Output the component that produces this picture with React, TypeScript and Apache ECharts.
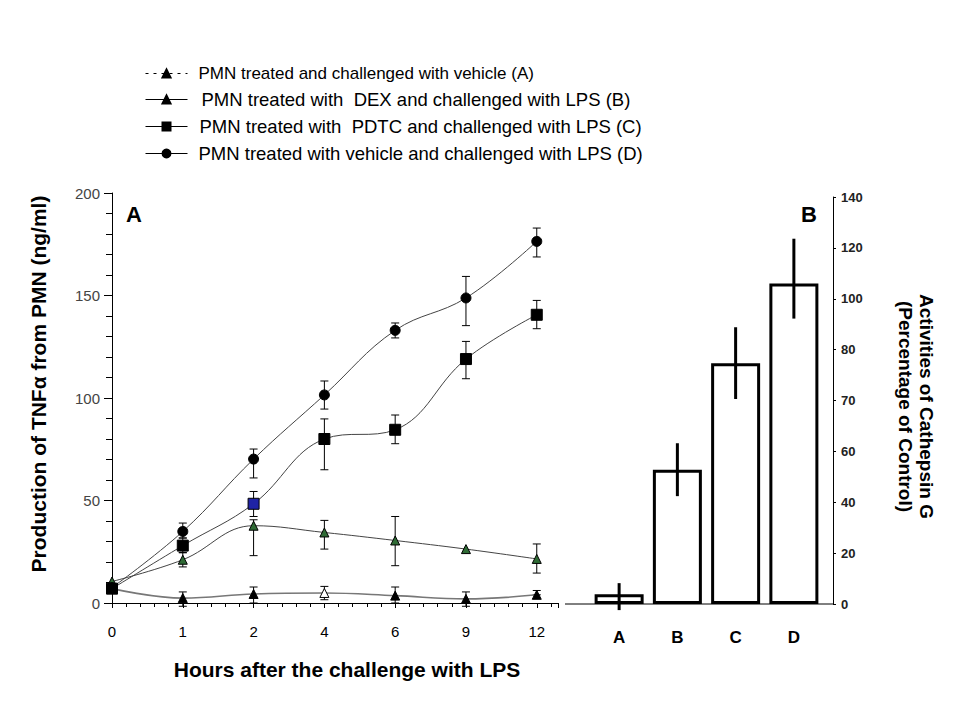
import React, { useEffect, useRef } from "react";
import * as echarts from "echarts";

// ---------- Panel A data (TNFα, ng/ml) ----------
const hours = ["0", "1", "2", "4", "6", "9", "12"];
const seriesNames = [
  "PMN treated and challenged with vehicle (A)",
  "PMN treated with  DEX and challenged with LPS (B)",
  "PMN treated with  PDTC and challenged with LPS (C)",
  "PMN treated with vehicle and challenged with LPS (D)",
];
const valA = [7, 2.4, 4.4, 4.9, 3.6, 2, 4];
const loA = [null, -1.6, 0, 1.6, 0, -1.6, 4];
const hiA = [null, 5.4, 7.8, 8.1, 7.8, 5.4, 6.1];
const valB = [10.5, 21.1, 37.7, 34.4, 30.5, 26.3, 21.5];
const loB = [null, 17.6, 23.1, 26.3, 18.2, null, 14.6];
const hiB = [null, 24.6, 40.6, 40.3, 42.2, null, 28.8];
const valC = [7, 28, 48.4, 80, 84.5, 119, 140.6];
const loC = [null, 24.5, 42.2, 65, 77.7, 109.4, 133.8];
const hiC = [null, 31.7, 54.4, 89.8, 91.7, 127.6, 147.6];
const valD = [7.5, 34.9, 70.2, 101.5, 133, 148.8, 176.4];
const loD = [null, 31.7, 61, 94.6, 129.3, 135.3, 168.8];
const hiD = [null, 39, 75.1, 108.3, 136.6, 159.3, 182.9];

// ---------- Panel B data (Cathepsin G, % of control) ----------
const barCats = ["A", "B", "C", "D"];
const barVals = [3.8, 52.8, 77.3, 106];
const barLo = [-2.4, 42.4, 70.3, 92.2];
const barHi = [8.2, 61.6, 88.8, 123.6];
const rightTicks = [0, 20, 40, 60, 70, 80, 100, 120, 140];

// map value on the (non-uniform) right axis to evenly spaced tick positions
function toPos(v: number): number {
  const t = rightTicks;
  if (v <= t[0]) return (v - t[0]) / (t[1] - t[0]);
  for (let k = 0; k < t.length - 1; k++) {
    if (v <= t[k + 1]) return k + (v - t[k]) / (t[k + 1] - t[k]);
  }
  const n = t.length - 1;
  return n + (v - t[n]) / (t[n] - t[n - 1]);
}

const FONT = "'Liberation Sans', Arial, sans-serif";
const GREEN = "#2f6b35";
const BLUE = "#1f23a6";

function errRender(capHalf: number, lw: number) {
  return (params: any, api: any) => {
    const x = api.value(0);
    const p1 = api.coord([x, api.value(1)]);
    const p2 = api.coord([x, api.value(2)]);
    const children: any[] = [
      { type: "line", shape: { x1: p1[0], y1: p1[1], x2: p2[0], y2: p2[1] }, style: { stroke: "#000", lineWidth: lw } },
    ];
    if (capHalf > 0) {
      children.push({ type: "line", shape: { x1: p1[0] - capHalf, y1: p1[1], x2: p1[0] + capHalf, y2: p1[1] }, style: { stroke: "#000", lineWidth: lw } });
      children.push({ type: "line", shape: { x1: p2[0] - capHalf, y1: p2[1], x2: p2[0] + capHalf, y2: p2[1] }, style: { stroke: "#000", lineWidth: lw } });
    }
    return { type: "group", children };
  };
}

function errData(lo: (number | null)[], hi: (number | null)[]) {
  const out: any[] = [];
  lo.forEach((l, i) => {
    const h = hi[i];
    if (l !== null && h !== null) out.push([i, l, h]);
  });
  return out;
}

export default function App() {
  const ref = useRef<HTMLDivElement>(null);
  useEffect(() => {
    document.body.style.margin = "0";
    if (!ref.current) return;
    const chart = echarts.init(ref.current, null, { renderer: "svg" });

    const lineBase = (name: string, vals: number[], symbol: string, size: number, itemColors: (string | null)[], lineColor: string, lineWidth: number) => ({
      name,
      type: "line",
      xAxisIndex: 0,
      yAxisIndex: 0,
      smooth: 0.4,
      symbol,
      symbolSize: size,
      showSymbol: true,
      z: 3,
      lineStyle: { color: lineColor, width: lineWidth },
      itemStyle: { color: "#000", borderColor: "#000", borderWidth: 1 },
      data: vals.map((v, i) => ({
        value: [i, v],
        itemStyle: itemColors[i] ? { color: itemColors[i] as string, borderColor: "#000", borderWidth: 1 } : undefined,
      })),
    });

    const legendCommon = (top: number, size: number, pad: number) => ({
      left: 140,
      top,
      orient: "horizontal",
      itemWidth: 42,
      itemHeight: 10,
      textStyle: { fontFamily: FONT, fontSize: size, color: "#000", padding: [0, 0, 0, pad] },
      lineStyle: { color: "#000", width: 1 },
      selectedMode: false,
    });

    const option: any = {
      animation: false,
      backgroundColor: "#fff",
      legend: [
        { ...legendCommon(60, 17, 6), data: [{ name: seriesNames[0], lineStyle: { type: [3, 5], color: "#000" } }] },
        { ...legendCommon(85, 18.5, 9), data: [seriesNames[1]] },
        { ...legendCommon(112, 18.5, 7), data: [seriesNames[2]] },
        { ...legendCommon(139, 18.5, 6), data: [seriesNames[3]] },
      ],
      grid: [
        { left: 112, top: 193, width: 446, height: 410 },
        { left: 590, top: 197, width: 233, height: 407 },
      ],
      xAxis: [
        {
          type: "value",
          gridIndex: 0,
          min: 0,
          max: 6.3,
          interval: 1,
          axisLine: { lineStyle: { color: "#000", width: 1 } },
          axisTick: { show: true, length: 5, lineStyle: { color: "#000" } },
          minorTick: { show: true, splitNumber: 5, length: 4, lineStyle: { color: "#000" } },
          splitLine: { show: false },
          axisLabel: {
            formatter: (v: number) => (Number.isInteger(v) && hours[v] !== undefined ? hours[v] : ""),
            fontFamily: FONT,
            fontSize: 15,
            color: "#000",
            margin: 21,
          },
          name: "Hours after the challenge with LPS",
          nameLocation: "middle",
          nameGap: 56,
          nameTextStyle: { fontFamily: FONT, fontSize: 21, fontWeight: "bold", color: "#000", padding: [0, 0, 0, 24] },
        },
        {
          type: "category",
          gridIndex: 1,
          data: barCats,
          axisLine: { show: false },
          axisTick: { show: false },
          axisLabel: { fontFamily: FONT, fontSize: 17, fontWeight: "bold", color: "#000", margin: 25 },
        },
      ],
      yAxis: [
        {
          type: "value",
          gridIndex: 0,
          min: 0,
          max: 200,
          interval: 50,
          axisLine: { show: true, lineStyle: { color: "#000", width: 1 } },
          axisTick: { show: true, length: 8, lineStyle: { color: "#000" } },
          minorTick: { show: true, splitNumber: 5, length: 6, lineStyle: { color: "#000" } },
          splitLine: { show: false },
          axisLabel: { fontFamily: FONT, fontSize: 15, color: "#444", margin: 12 },
          name: "Production of TNFα from PMN (ng/ml)",
          nameLocation: "middle",
          nameGap: 63,
          nameRotate: 90,
          nameTextStyle: { fontFamily: FONT, fontSize: 21, fontWeight: "bold", color: "#000", padding: [0, 0, 0, 28] },
        },
        {
          type: "value",
          gridIndex: 1,
          position: "right",
          offset: 10,
          min: 0,
          max: 8,
          interval: 1,
          axisLine: { show: true, lineStyle: { color: "#000", width: 1 } },
          axisTick: { show: true, length: 3, lineStyle: { color: "#000" } },
          splitLine: { show: false },
          axisLabel: {
            formatter: (v: number) => String(rightTicks[Math.round(v)] ?? ""),
            fontFamily: FONT,
            fontSize: 13,
            fontWeight: "bold",
            color: "#222",
            margin: 8,
          },
          name: "Activities of Cathepsin G\n(Percentage of Control)",
          nameLocation: "middle",
          nameGap: 62,
          nameRotate: -90,
          nameTextStyle: { fontFamily: FONT, fontSize: 19, fontWeight: "bold", color: "#000", lineHeight: 21, padding: [0, 0, 0, 12] },
        },
      ],
      graphic: [
        { type: "line", shape: { x1: 565, y1: 604, x2: 833, y2: 604 }, style: { stroke: "#000", lineWidth: 1 } },
        { type: "text", left: 126, top: 203, style: { text: "A", font: `bold 22px ${FONT}`, fill: "#000" } },
        { type: "text", left: 801, top: 203, style: { text: "B", font: `bold 22px ${FONT}`, fill: "#000" } },
      ],
      series: [
        { type: "custom", xAxisIndex: 0, yAxisIndex: 0, renderItem: errRender(4, 1), clip: false, z: 2, encode: { x: 0, y: [1, 2] }, data: errData(loA, hiA) },
        { type: "custom", xAxisIndex: 0, yAxisIndex: 0, renderItem: errRender(4, 1), clip: false, z: 2, encode: { x: 0, y: [1, 2] }, data: errData(loB, hiB) },
        { type: "custom", xAxisIndex: 0, yAxisIndex: 0, renderItem: errRender(4, 1), clip: false, z: 2, encode: { x: 0, y: [1, 2] }, data: errData(loC, hiC) },
        { type: "custom", xAxisIndex: 0, yAxisIndex: 0, renderItem: errRender(4, 1), clip: false, z: 2, encode: { x: 0, y: [1, 2] }, data: errData(loD, hiD) },
        lineBase(seriesNames[0], valA, "triangle", 9, [null, null, null, "#fff", null, null, null], "#777", 1.6),
        lineBase(seriesNames[1], valB, "triangle", 9, valB.map(() => GREEN), "#444", 1),
        lineBase(seriesNames[2], valC, "rect", 11, [null, null, BLUE, null, null, null, null], "#444", 1),
        lineBase(seriesNames[3], valD, "circle", 10, valD.map(() => null), "#444", 1),
        {
          type: "bar",
          xAxisIndex: 1,
          yAxisIndex: 1,
          barWidth: 49,
          z: 2,
          itemStyle: { color: "#fff", borderColor: "#000", borderWidth: 3 },
          data: barVals.map((v) => toPos(v)),
        },
        {
          type: "custom",
          xAxisIndex: 1,
          yAxisIndex: 1,
          renderItem: errRender(0, 3),
          clip: false,
          z: 4,
          encode: { x: 0, y: [1, 2] },
          data: barCats.map((_, i) => [i, toPos(barLo[i]), toPos(barHi[i])]),
        },
      ],
    };
    chart.setOption(option);
    return () => chart.dispose();
  }, []);
  return <div ref={ref} style={{ width: 960, height: 720 }} />;
}
